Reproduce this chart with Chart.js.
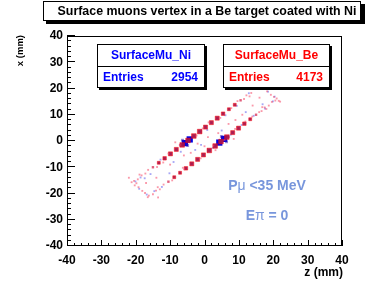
<!DOCTYPE html>
<html>
<head>
<meta charset="utf-8">
<script src="https://cdn.jsdelivr.net/npm/chart.js@4.4.0/dist/chart.umd.min.js"></script>
<style>
html, body { margin: 0; padding: 0; background: #fff; }
</style>
</head>
<body>
<canvas id="myChart" width="365" height="291"></canvas>
<script>
// axis range and ticks (mm)
const axisMin = -40
const axisMax = 40
const majorStep = 10
const minorStep = 2

// SurfaceMu_Be : z, x, bin content
const beZ = [
  -15.0,-13.3,-11.6,-9.9,-8.2,-6.5,-4.8,-3.1,-1.4,0.3,2.0,3.7,5.4,7.1,8.8,10.5,
  -10.5,-8.8,-7.1,-5.4,-3.7,-2.0,-0.3,1.4,3.1,4.8,6.5,8.2,9.9,11.6,13.3,15.0,
  -20.5,-19.4,-18.3,-17.2,-16.4,-19.8,-18.9,12.2,13.6,14.8,16.0,11.5,13.1,15.4,
  -16.2,-15.0,-14.1,-13.0,-11.9,-13.6,16.6,17.5,18.7,19.6,20.6,15.9,18.0,16.8,
  -20.3,-19.2,-18.1,-17.3,-21.2,-16.5,17.1,18.2,19.3,20.2,21.0,16.4,21.6,
  -12.0,-10.5,-7.2,-2.3,1.2,4.6,7.8,9.6,-13.8,-9.4,-6.3,-1.1,2.6,5.8,8.9,11.9,13.9,3.2,-0.5,-5.9,
  -14,-10,-6,-2,1,4,7,11,14,-17,16,0,-4,9,
  -22,22,-13.5,13.5,15.2,-8.5,8.5
]
const beX = [
  -10.0,-8.3,-6.6,-4.9,-3.2,-1.5,0.2,1.9,3.6,5.3,7.0,8.7,10.4,12.1,13.8,15.5,
  -15.5,-13.8,-12.1,-10.4,-8.7,-7.0,-5.3,-3.6,-1.9,-0.2,1.5,3.2,4.9,6.6,8.3,10.0,
  -15.2,-14.6,-13.1,-12.4,-11.0,-16.1,-12.8,17.4,18.3,20.1,20.8,16.0,17.0,21.6,
  -20.8,-20.3,-18.9,-18.4,-16.6,-17.6,11.4,12.8,13.5,14.9,15.4,11.0,12.2,12.9,
  -16.9,-17.6,-19.0,-19.8,-15.7,-21.4,20.1,18.9,17.6,16.8,16.2,21.0,15.3,
  -8.2,-4.8,-1.5,2.1,7.1,8.8,12.5,15.2,-9.9,-15.0,-10.2,-6.6,-1.7,0.4,4.6,7.4,9.3,-3.5,4.8,-10.8,
  -14,-9,-5.5,-1,1.5,3,6.5,10,13.5,-16,16.5,-2,-4.5,8,
  -14,15,-21.5,21.5,22.4,-0.5,0.8
]
const beN = [
  2,3,4,5,5,6,6,6,6,5,5,5,4,3,3,2,
  2,3,3,4,5,5,5,6,6,6,6,5,5,4,3,2,
  1,1,1,1,1,1,1,1,1,1,1,1,1,1,
  1,1,1,1,1,1,1,1,1,1,1,1,1,1,
  1,1,1,1,1,1,1,1,1,1,1,1,1,
  1,1,1,1,1,1,1,1,1,1,1,1,1,1,1,1,1,1,1,1,
  1,1,1,1,1,1,1,1,1,1,1,1,1,1,
  1,1,1,1,1,1,1
]

// SurfaceMu_Ni : z, x, bin content
const niZ = [
  -5.7,-4.3,-6.4,-4.9,-7.0,
  5.7,4.3,6.4,4.9,7.0,
  -13.3,-11.6,-9.9,-8.2,-3.1,-1.4,0.3,2.0,3.7,5.4,7.1,
  -7.1,-5.4,-3.7,-2.0,-0.3,1.4,3.1,8.2,9.9,11.6,13.3,
  -20.1,-18.6,-17.4,-19.0,-16.8,-14.6,-12.4,-15.7,-12.8,-10.2,-6.9,-2.7,0.8,2.4,6.1,
  7.6,9.4,10.8,12.9,14.3,15.6,17.6,18.5,19.9,20.4,16.9,-9.0,5.0,-1.0,12.0
]
const niX = [
  -0.8,0.6,0.3,-1.7,-1.6,
  0.8,-0.6,-0.3,1.7,1.6,
  -8.3,-6.6,-4.9,-3.2,1.9,3.6,5.3,7.0,8.7,10.4,12.1,
  -12.1,-10.4,-8.7,-7.0,-5.3,-3.6,-1.9,3.2,4.9,6.6,8.3,
  -15.4,-13.9,-14.2,-18.2,-20.4,-19.1,-17.5,-12.6,-7.1,-12.3,-4.1,-3.4,4.2,-2.6,9.8,
  2.4,13.4,6.1,18.2,9.6,19.8,12.4,18.8,15.1,16.9,14.0,-8.0,4.0,-1.5,11.0
]
const niN = [
  9,9,4,4,3,
  9,9,4,4,3,
  1,2,2,3,3,3,2,2,2,2,1,
  1,2,2,2,2,3,3,3,2,2,1,
  1,1,1,1,1,1,1,1,1,1,1,1,1,1,1,
  1,1,1,1,1,1,1,1,1,1,1,1,1,1,1,1
]

const histNames = ['SurfaceMu_Ni', 'SurfaceMu_Be']
const histEntries = [2954, 4173]

const FONT = '"Liberation Sans", Arial, Helvetica, sans-serif'

function toPoints(zs, xs, ns) {
  return zs.map((z, i) => ({ x: z, y: xs[i], n: ns[i] }))
}

// box side grows with bin content, like ROOT "box" drawing
function boxRadius(n) {
  return (1.3 + 0.55 * n) / Math.SQRT2
}

function beColor(n) {
  if (n <= 1) return 'rgba(245,70,100,0.55)'
  if (n == 2) return 'rgba(215,40,80,0.75)'
  return 'rgba(175,20,70,0.92)'
}
function niColor(n) {
  if (n <= 1) return 'rgba(80,80,235,0.5)'
  if (n < 6) return 'rgba(50,20,170,0.55)'
  return 'rgba(0,0,225,1)'
}

function statBox(ctx, x1, y1, x2, y2, name, entries, color) {
  ctx.fillStyle = '#000'
  ctx.fillRect(x1 + 2, y2, x2 - x1, 2)
  ctx.fillRect(x2, y1 + 2, 2, y2 - y1)
  ctx.fillStyle = '#fff'
  ctx.fillRect(x1, y1, x2 - x1, y2 - y1)
  ctx.strokeStyle = '#000'
  ctx.lineWidth = 1
  ctx.strokeRect(x1 + 0.5, y1 + 0.5, x2 - x1 - 1, y2 - y1 - 1)
  const mid = Math.round((y1 + y2) / 2)
  ctx.beginPath()
  ctx.moveTo(x1, mid + 0.5)
  ctx.lineTo(x2, mid + 0.5)
  ctx.stroke()
  ctx.fillStyle = color
  ctx.font = 'bold 12px ' + FONT
  ctx.textBaseline = 'middle'
  ctx.textAlign = 'center'
  ctx.fillText(name, (x1 + x2) / 2, (y1 + mid) / 2 + 1)
  ctx.textAlign = 'left'
  ctx.fillText('Entries', x1 + 6, (mid + y2) / 2 + 1)
  ctx.textAlign = 'right'
  ctx.fillText(String(entries), x2 - 7, (mid + y2) / 2 + 1)
}

// draw text pieces with different weights, centred at cx
function mixedText(ctx, parts, cx, cy, size, color) {
  let w = 0
  parts.forEach(p => { ctx.font = p[1] + ' ' + size + 'px ' + FONT; w += ctx.measureText(p[0]).width })
  let x = cx - w / 2
  ctx.fillStyle = color
  ctx.textAlign = 'left'
  ctx.textBaseline = 'middle'
  parts.forEach(p => {
    ctx.font = p[1] + ' ' + size + 'px ' + FONT
    ctx.fillText(p[0], x, cy)
    x += ctx.measureText(p[0]).width
  })
}

const rootFrame = {
  id: 'rootFrame',
  afterDraw(chart) {
    const ctx = chart.ctx
    const a = chart.chartArea
    const xs = chart.scales.x
    const ys = chart.scales.y
    ctx.save()
    ctx.strokeStyle = '#000'
    ctx.lineWidth = 1
    ctx.strokeRect(a.left + 0.5, a.top + 0.5, a.right - a.left - 1, a.bottom - a.top - 1)

    // ticks inside the frame
    ctx.beginPath()
    for (let v = axisMin; v <= axisMax; v += minorStep) {
      const major = v % majorStep == 0
      const px = Math.round(xs.getPixelForValue(v)) + 0.5
      ctx.moveTo(px, a.bottom)
      ctx.lineTo(px, a.bottom - (major ? 6 : 3))
      const py = Math.round(ys.getPixelForValue(v)) - 0.5
      ctx.moveTo(a.left, py)
      ctx.lineTo(a.left + (major ? 8 : 4), py)
    }
    ctx.stroke()

    // title pave with shadow
    ctx.fillStyle = '#000'
    ctx.fillRect(46, 21, 319, 3)
    ctx.fillRect(361, 4, 4, 20)
    ctx.fillStyle = '#fff'
    ctx.fillRect(43, 1, 318, 20)
    ctx.strokeRect(43.5, 1.5, 317, 19)
    ctx.fillStyle = '#000'
    ctx.font = 'bold 12.4px ' + FONT
    ctx.textAlign = 'center'
    ctx.textBaseline = 'middle'
    ctx.fillText('Surface muons vertex in a Be target coated with Ni', 207, 12)

    // axis titles
    ctx.font = 'bold 12px ' + FONT
    ctx.textAlign = 'right'
    ctx.fillText('z (mm)', 343, 273)
    ctx.save()
    ctx.translate(20, 35)
    ctx.rotate(-Math.PI / 2)
    ctx.font = 'bold 9.5px ' + FONT
    ctx.textAlign = 'right'
    ctx.textBaseline = 'middle'
    ctx.fillText('x (mm)', 0, 0)
    ctx.restore()

    // stats boxes
    statBox(ctx, 97, 44, 205, 88, histNames[0], histEntries[0], '#0000ff')
    statBox(ctx, 223, 44, 330, 88, histNames[1], histEntries[1], '#ff0000')

    // cut labels
    mixedText(ctx, [['P', 'bold'], ['\u03bc', 'normal'], [' <35 MeV', 'bold']], 267, 186, 14, '#7896dc')
    mixedText(ctx, [['E', 'bold'], ['\u03c0', 'normal'], [' = 0', 'bold']], 267, 216, 14, '#7896dc')
    ctx.restore()
  }
}

const ctx = document.getElementById('myChart')

new Chart(ctx, {
  type: 'scatter',
  data: {
    datasets: [
      {
        label: histNames[1],
        data: toPoints(beZ, beX, beN),
        pointStyle: 'rect',
        pointRadius: c => boxRadius(c.raw ? c.raw.n : 1),
        backgroundColor: c => beColor(c.raw ? c.raw.n : 1),
        borderColor: 'rgba(255,0,0,0.45)',
        borderWidth: c => (c.raw && c.raw.n > 2 ? 1 : 0)
      },
      {
        label: histNames[0],
        data: toPoints(niZ, niX, niN),
        pointStyle: 'rect',
        pointRadius: c => boxRadius(c.raw ? c.raw.n : 1) * (c.raw && c.raw.n > 1 && c.raw.n < 6 ? 0.8 : 1),
        backgroundColor: c => niColor(c.raw ? c.raw.n : 1),
        borderWidth: 0
      }
    ]
  },
  options: {
    responsive: false,
    animation: false,
    devicePixelRatio: 1,
    layout: { padding: { left: 0, top: 36, right: 23, bottom: 0 } },
    plugins: {
      legend: { display: false },
      tooltip: { enabled: false },
      title: { display: false }
    },
    scales: {
      x: {
        type: 'linear',
        min: axisMin,
        max: axisMax,
        afterFit: s => { s.height = 45 },
        grid: { display: false, drawTicks: false },
        border: { display: false },
        ticks: {
          stepSize: majorStep,
          padding: 7,
          color: '#000',
          maxRotation: 0,
          font: { family: FONT, weight: 'bold', size: 12 }
        }
      },
      y: {
        type: 'linear',
        min: axisMin,
        max: axisMax,
        afterFit: s => { s.width = 67 },
        grid: { display: false, drawTicks: false },
        border: { display: false },
        ticks: {
          stepSize: majorStep,
          padding: 4,
          color: '#000',
          font: { family: FONT, weight: 'bold', size: 12 }
        }
      }
    }
  },
  plugins: [rootFrame]
})
</script>
</body>
</html>
